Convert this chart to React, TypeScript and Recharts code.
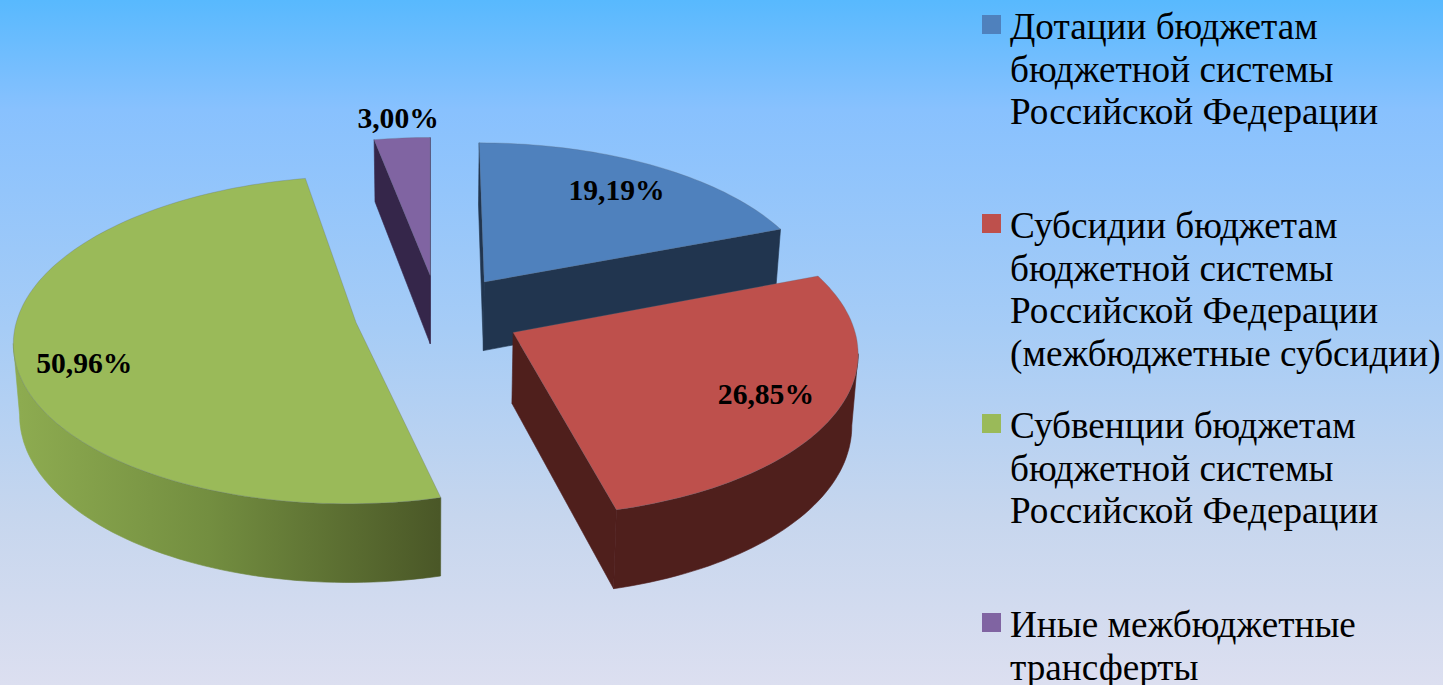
import React from "react";
import { PieChart, Pie, Legend } from "recharts";

const categories = [
  "Дотации бюджетам\nбюджетной системы\nРоссийской Федерации",
  "Субсидии бюджетам\nбюджетной системы\nРоссийской Федерации\n(межбюджетные субсидии)",
  "Субвенции бюджетам\nбюджетной системы\nРоссийской Федерации",
  "Иные межбюджетные\nтрансферты",
];
const values = [19.19, 26.85, 50.96, 3.0];
const topColors = ["#4f81bd", "#be504c", "#9aba59", "#8064a2"];
const wallColors = ["#21354f", "#4f1f1c", "url(#greenWall)", "#35264a"];

// presentation of the 3D look
const EXPLODE = 0.247;
const PERSPECTIVE = 0.105;
const TILT = 0.474;
const DEPTH = 70;
const VANISH_SHIFT = -7;
const BOTTOM_SHRINK = 0.985;
const LABEL_RADIUS = [0.77, 0.79, 0.8, 1.16];
const LABEL_DY = [-1, -1, 12, 0];
const LEGEND_TOPS = [6, 205, 405, 604];

const table = categories.map((name, i) => ({ name, value: values[i], fill: topColors[i] }));

const RAD = Math.PI / 180;

type Pt = { x: number; y: number; s: number };

function project(cx: number, cy: number, R: number, wx: number, wy: number): Pt {
  const vx = cx + VANISH_SHIFT;
  const s = 1 / (1 - PERSPECTIVE * wy);
  const X = wx + (cx - vx) / R;
  return { x: vx + X * R * s, y: cy + wy * R * TILT * s, s };
}

function sectorPoint(cx: number, cy: number, R: number, mid: number, ang: number, r: number): Pt {
  const ox = Math.cos(mid * RAD) * EXPLODE;
  const oy = -Math.sin(mid * RAD) * EXPLODE;
  return project(cx, cy, R, ox + Math.cos(ang * RAD) * r, oy - Math.sin(ang * RAD) * r);
}

function lower(p: Pt, vx: number): Pt {
  return { x: vx + (p.x - vx) * BOTTOM_SHRINK, y: p.y + DEPTH * p.s, s: p.s };
}

const toPath = (pts: Pt[]) =>
  pts.map((p, i) => `${i ? "L" : "M"}${p.x.toFixed(1)} ${p.y.toFixed(1)}`).join("") + "Z";

function Sector3D(props: any) {
  const { cx, cy, outerRadius: R, startAngle, endAngle, name, fill } = props;
  const idx = categories.indexOf(name ?? props.payload?.name);
  const vx = cx + VANISH_SHIFT;
  const mid = (startAngle + endAngle) / 2;
  const steps = Math.max(6, Math.ceil(Math.abs(endAngle - startAngle) / 1.5));
  const arc: Pt[] = [];
  for (let i = 0; i <= steps; i++) {
    arc.push(sectorPoint(cx, cy, R, mid, startAngle + ((endAngle - startAngle) * i) / steps, 1));
  }
  const apex = sectorPoint(cx, cy, R, mid, 0, 0);
  const wall = wallColors[idx];
  const quads: string[] = [];
  const edge = (a: Pt, b: Pt) => {
    if (b.x < a.x) quads.push(toPath([a, b, lower(b, vx), lower(a, vx)]));
  };
  edge(apex, arc[0]);
  edge(arc[arc.length - 1], apex);
  const run: Pt[] = [];
  for (let i = 0; i < steps; i++) {
    if (arc[i + 1].x < arc[i].x) {
      if (!run.length) run.push(arc[i]);
      run.push(arc[i + 1]);
    }
  }
  if (run.length) quads.push(toPath([...run, ...run.slice().reverse().map((p) => lower(p, vx))]));
  return (
    <g>
      {quads.map((d, i) => (
        <path key={i} d={d} fill={wall} stroke={wall} strokeWidth={0.6} />
      ))}
      <path d={toPath([apex, ...arc])} fill={fill} stroke="#5f6b78" strokeOpacity={0.35} strokeWidth={0.8} />
    </g>
  );
}

function SliceLabel(props: any) {
  const { cx, cy, outerRadius: R, midAngle, index, value } = props;
  const p = sectorPoint(cx, cy, R, midAngle, midAngle, LABEL_RADIUS[index]);
  return (
    <text
      x={p.x}
      y={p.y + LABEL_DY[index]}
      textAnchor="middle"
      dominantBaseline="central"
      fontFamily="'Liberation Serif', serif"
      fontWeight={700}
      fontSize={29.6}
      fill="#000"
    >
      {value.toFixed(2).replace(".", ",")}%
    </text>
  );
}

function LegendBlock({ payload }: any) {
  return (
    <div style={{ position: "relative", width: 1443, height: 685 }}>
      {(payload ?? []).map((entry: any, i: number) => (
        <div key={i} style={{ position: "absolute", left: 982, top: LEGEND_TOPS[i] }}>
          <span
            style={{
              position: "absolute",
              left: 0,
              top: 9,
              width: 19,
              height: 19,
              background: topColors[i],
            }}
          />
          <div
            style={{
              marginLeft: 28,
              whiteSpace: "pre",
              fontFamily: "'Liberation Serif', serif",
              fontSize: 37.2,
              lineHeight: "42.6px",
              color: "#000",
            }}
          >
            {entry.value}
          </div>
        </div>
      ))}
    </div>
  );
}

export default function App() {
  return (
    <div
      style={{
        position: "absolute",
        left: 0,
        top: 0,
        width: 1443,
        height: 685,
        overflow: "hidden",
        background: "linear-gradient(180deg,#58b9fe 0%,#88c1fe 16%,#a6ccf6 48%,#c6d6ee 75%,#dcdff0 100%)",
      }}
    >
      <PieChart width={1443} height={685} margin={{ top: 0, right: 0, bottom: 0, left: 0 }}>
        <defs>
          <linearGradient id="greenWall" gradientUnits="userSpaceOnUse" x1={20} y1={0} x2={440} y2={0}>
            <stop offset="0%" stopColor="#8dab50" />
            <stop offset="45%" stopColor="#738e40" />
            <stop offset="100%" stopColor="#4a5727" />
          </linearGradient>
        </defs>
        <Pie
          data={table}
          dataKey="value"
          nameKey="name"
          cx={438}
          cy={314}
          innerRadius={0}
          outerRadius={338}
          startAngle={90}
          endAngle={-270}
          paddingAngle={0}
          isAnimationActive={false}
          shape={Sector3D}
          label={SliceLabel}
          labelLine={false}
        />
        <Legend
          content={<LegendBlock />}
          itemSorter={null}
          wrapperStyle={{ position: "absolute", left: 0, top: 0, width: 1443, height: 685 }}
        />
      </PieChart>
    </div>
  );
}
